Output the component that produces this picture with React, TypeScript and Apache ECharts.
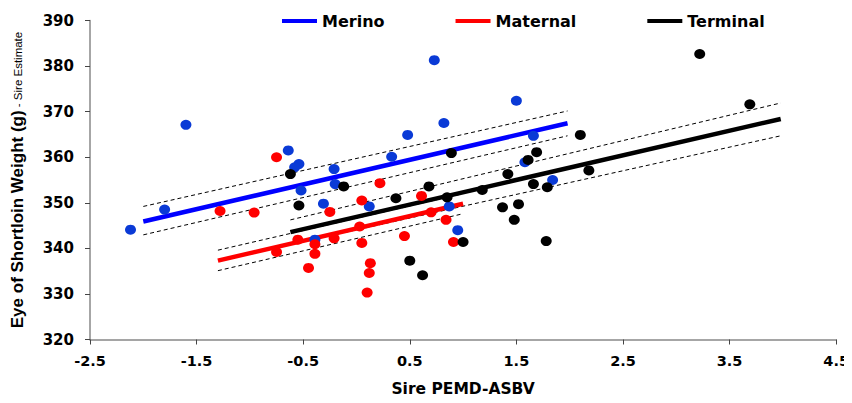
import React, { useEffect, useRef } from "react";
import * as echarts from "echarts";

const seriesNames = ["Merino", "Maternal", "Terminal"];
const lineColors = ["#0000ff", "#ff0000", "#000000"];
const pointColors = ["#0a3ad6", "#ff0000", "#000000"];

const merinoPoints: [number, number][] = [
  [-2.12, 344.1], [-1.8, 348.5], [-1.6, 367.1], [-0.64, 361.5], [-0.54, 358.5],
  [-0.58, 357.8], [-0.52, 352.7], [-0.21, 357.4], [-0.2, 354.1], [-0.31, 349.8],
  [-0.39, 341.9], [0.12, 349.2], [0.33, 360.1], [0.48, 364.9], [0.73, 381.3],
  [0.82, 367.5], [0.87, 349.2], [0.95, 344.0], [1.5, 372.4], [1.58, 358.9],
  [1.66, 364.7], [1.84, 355.0],
];

const maternalPoints: [number, number][] = [
  [-1.28, 348.2], [-0.96, 347.85], [-0.75, 360.0], [-0.75, 339.2], [-0.55, 341.9],
  [-0.45, 335.7], [-0.39, 340.9], [-0.39, 338.8], [-0.25, 348.0], [-0.21, 342.2],
  [0.03, 344.8], [0.05, 350.5], [0.05, 341.2], [0.1, 330.3], [0.12, 334.6],
  [0.13, 336.75], [0.22, 354.3], [0.45, 342.7], [0.61, 351.5], [0.7, 347.9],
  [0.84, 346.25], [0.91, 341.4],
];

const terminalPoints: [number, number][] = [
  [-0.62, 356.3], [-0.54, 349.4], [-0.12, 353.6], [0.37, 351.0], [0.5, 337.3],
  [0.62, 334.1], [0.68, 353.6], [0.85, 351.2], [0.89, 360.9], [1.0, 341.4],
  [1.18, 352.8], [1.37, 349.0], [1.42, 356.3], [1.48, 346.25], [1.52, 349.7],
  [1.61, 359.4], [1.66, 354.1], [1.69, 361.1], [1.78, 341.6], [1.79, 353.4],
  [2.1, 364.9], [2.18, 357.1], [3.22, 382.65], [3.69, 371.6],
];

// Regression fits (endpoints) and confidence bands
const merinoFit: [number, number][] = [[-2.0, 345.9], [1.98, 367.45]];
const merinoUpper: [number, number][] = [[-2.0, 349.2], [1.98, 370.15]];
const merinoLower: [number, number][] = [[-2.0, 342.96], [1.98, 364.7]];

const maternalFit: [number, number][] = [[-1.3, 337.3], [1.0, 349.8]];
const maternalUpper: [number, number][] = [[-1.3, 339.6], [1.0, 352.0]];
const maternalLower: [number, number][] = [[-1.3, 335.1], [1.0, 347.6]];

const terminalFit: [number, number][] = [[-0.62, 343.55], [3.98, 368.4]];
const terminalUpper: [number, number][] = [[-0.62, 346.25], [3.98, 371.9]];
const terminalLower: [number, number][] = [[-0.62, 340.85], [3.98, 364.7]];

const xTicks = [-2.5, -1.5, -0.5, 0.5, 1.5, 2.5, 3.5, 4.5];

const FONT = "DejaVu Sans";
const ARIAL = "Liberation Sans";

export default function App() {
  const ref = useRef<HTMLDivElement>(null);

  useEffect(() => {
    if (!ref.current) return;
    const chart = echarts.init(ref.current, undefined, { renderer: "svg" });

    const fits = [merinoFit, maternalFit, terminalFit];
    const bands = [
      merinoUpper, merinoLower, maternalUpper, maternalLower, terminalUpper, terminalLower,
    ];
    const points = [merinoPoints, maternalPoints, terminalPoints];

    const series: any[] = [];
    bands.forEach((b, i) => {
      series.push({
        name: "band" + i,
        type: "line",
        data: b,
        showSymbol: false,
        symbol: "none",
        silent: true,
        lineStyle: { color: "#000", width: 1, type: [4, 3] },
        z: 2,
      });
    });
    fits.forEach((f, i) => {
      series.push({
        name: seriesNames[i],
        type: "line",
        data: f,
        showSymbol: false,
        symbol: "none",
        color: lineColors[i],
        lineStyle: { color: lineColors[i], width: 4.5 },
        z: 3,
      });
    });
    points.forEach((p, i) => {
      series.push({
        name: seriesNames[i] + " points",
        type: "scatter",
        data: p,
        symbol: "circle",
        symbolSize: [11, 10],
        itemStyle: { color: pointColors[i], opacity: 1 },
        z: 4,
      });
    });

    chart.setOption({
      animation: false,
      backgroundColor: "#ffffff",
      grid: { left: 90, right: 7, top: 20.5, bottom: 63.5, containLabel: false },
      legend: {
        data: seriesNames,
        left: 277,
        top: 8,
        icon: "rect",
        itemWidth: 35,
        itemHeight: 4,
        itemGap: 71,
        textStyle: { fontFamily: FONT, fontWeight: "bold", fontSize: 16, color: "#000" },
      },
      xAxis: {
        type: "value",
        min: -2.5,
        max: 4.5,
        interval: 1,
        name: "Sire PEMD-ASBV",
        nameLocation: "middle",
        nameGap: 41,
        nameTextStyle: { fontFamily: FONT, fontWeight: "bold", fontSize: 15.5, color: "#000" },
        axisLine: { show: true, onZero: false, lineStyle: { color: "#888", width: 1.5 } },
        axisTick: { show: true, length: 5, customValues: xTicks, lineStyle: { color: "#444" } },
        axisLabel: {
          customValues: xTicks,
          margin: 14,
          fontFamily: FONT,
          fontWeight: "bold",
          fontSize: 14.5,
          color: "#000",
          formatter: (v: number) => String(v),
        },
        splitLine: { show: false },
      },
      yAxis: {
        type: "value",
        min: 320,
        max: 390,
        interval: 10,
        name: "{a|Eye of Shortloin Weight (g)}{b| - Sire Estimate}",
        nameLocation: "middle",
        nameRotate: 90,
        nameGap: 64,
        nameTextStyle: {
          rich: {
            a: { fontFamily: ARIAL, fontWeight: "bold", fontSize: 17, color: "#000" },
            b: { fontFamily: ARIAL, fontSize: 11.5, color: "#000" },
          },
        },
        axisLine: { show: true, onZero: false, lineStyle: { color: "#888", width: 1.5 } },
        axisTick: { show: true, length: 5, lineStyle: { color: "#444" } },
        axisLabel: {
          margin: 16,
          fontFamily: FONT,
          fontWeight: "bold",
          fontSize: 15,
          color: "#000",
        },
        splitLine: { show: false },
      },
      series,
    });

    return () => chart.dispose();
  }, []);

  return <div ref={ref} style={{ width: 852, height: 403, margin: -8 }} />;
}
